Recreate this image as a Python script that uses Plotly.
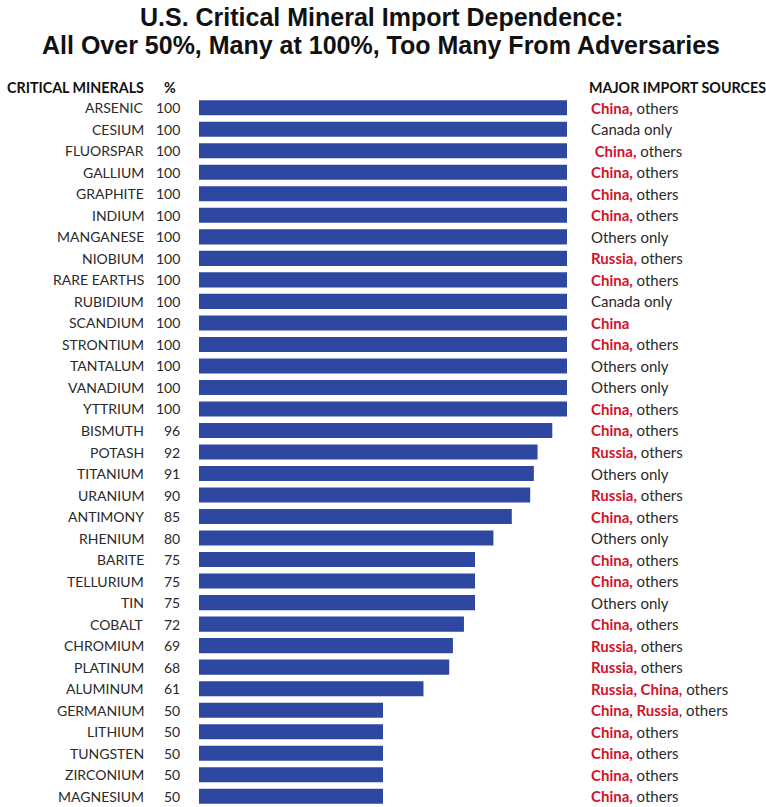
import plotly.graph_objects as go

minerals = ["ARSENIC", "CESIUM", "FLUORSPAR", "GALLIUM", "GRAPHITE", "INDIUM",
            "MANGANESE", "NIOBIUM", "RARE EARTHS", "RUBIDIUM", "SCANDIUM",
            "STRONTIUM", "TANTALUM", "VANADIUM", "YTTRIUM", "BISMUTH", "POTASH",
            "TITANIUM", "URANIUM", "ANTIMONY", "RHENIUM", "BARITE", "TELLURIUM",
            "TIN", "COBALT", "CHROMIUM", "PLATINUM", "ALUMINUM", "GERMANIUM",
            "LITHIUM", "TUNGSTEN", "ZIRCONIUM", "MAGNESIUM"]
percent = [100, 100, 100, 100, 100, 100, 100, 100, 100, 100, 100, 100, 100,
           100, 100, 96, 92, 91, 90, 85, 80, 75, 75, 75, 72, 69, 68, 61, 50,
           50, 50, 50, 50]
# adversary sources are shown in red, everything else in dark grey
red_sources = ["China,", "", " China,", "China,", "China,", "China,", "",
               "Russia,", "China,", "", "China", "China,", "", "", "China,",
               "China,", "Russia,", "", "Russia,", "China,", "", "China,",
               "China,", "", "China,", "Russia,", "Russia,", "Russia, China,",
               "China, Russia", "China,", "China,", "China,", "China,"]
other_sources = [" others", "Canada only", " others", " others", " others",
                 " others", "Others only", " others", " others", "Canada only",
                 "", " others", "Others only", "Others only", " others",
                 " others", " others", "Others only", " others", " others",
                 "Others only", " others", " others", "Others only", " others",
                 " others", " others", " others", ", others", " others",
                 " others", " others", " others"]
title_lines = ["U.S. Critical Mineral Import Dependence:",
               "All Over 50%, Many at 100%, Too Many From Adversaries"]

RED = "#d1132b"
DARK = "#2a2a2a"
BLUE = "#2e47a1"
FONT = "Lato"

W, H = 766, 807
L, R, T, B = 199, 199, 97, 0
plot_w = W - L - R
plot_h = H - T - B


def px_x(px):
    return (px - L) / plot_w


def px_y(py):
    return 1 - (py - T) / plot_h


idx = list(range(len(minerals)))

fig = go.Figure(go.Bar(
    x=percent, y=idx, orientation="h", width=0.7,
    marker=dict(color=BLUE, line=dict(width=0)),
    hoverinfo="skip",
))

ann = []
for i, (name, val, red, rest) in enumerate(zip(minerals, percent, red_sources, other_sources)):
    ann.append(dict(x=px_x(146), y=i, xref="paper", yref="y", text=name,
                    xanchor="right", yanchor="middle", showarrow=False,
                    font=dict(family=FONT, size=14, color=DARK)))
    ann.append(dict(x=px_x(182), y=i, xref="paper", yref="y", text=str(val),
                    xanchor="right", yanchor="middle", showarrow=False,
                    font=dict(family=FONT, size=14, color=DARK)))
    label = ""
    if red:
        label += f"<b><span style='color:{RED}'>{red}</span></b>"
    if rest:
        label += f"<span style='color:{DARK}'>{rest}</span>"
    ann.append(dict(x=px_x(589), y=i, xref="paper", yref="y", text=label,
                    xanchor="left", yanchor="middle", showarrow=False,
                    font=dict(family=FONT, size=15, color=DARK)))

# column headers
for txt, xp, anchor in [("CRITICAL MINERALS", 146, "right"), ("%", 170, "center"),
                        ("MAJOR IMPORT SOURCES", 587, "left")]:
    ann.append(dict(x=px_x(xp), y=px_y(87), xref="paper", yref="paper",
                    text=f"<b>{txt}</b>", xanchor=anchor, yanchor="middle",
                    showarrow=False, font=dict(family=FONT, size=14.3, color="#111")))

# two-line title
for line, py in zip(title_lines, [17, 45]):
    ann.append(dict(x=px_x(381), y=px_y(py), xref="paper", yref="paper",
                    text=f"<b>{line}</b>", xanchor="center", yanchor="middle",
                    showarrow=False,
                    font=dict(family="Liberation Sans", size=25, color="#111")))

fig.update_layout(
    width=W, height=H,
    margin=dict(l=L, r=R, t=T, b=B, pad=0),
    paper_bgcolor="white", plot_bgcolor="white",
    showlegend=False,
    xaxis=dict(range=[0, 100], visible=False, fixedrange=True),
    yaxis=dict(range=[len(minerals) - 0.5, -0.5], visible=False, fixedrange=True),
    annotations=ann,
)

fig.write_html("out.html")
